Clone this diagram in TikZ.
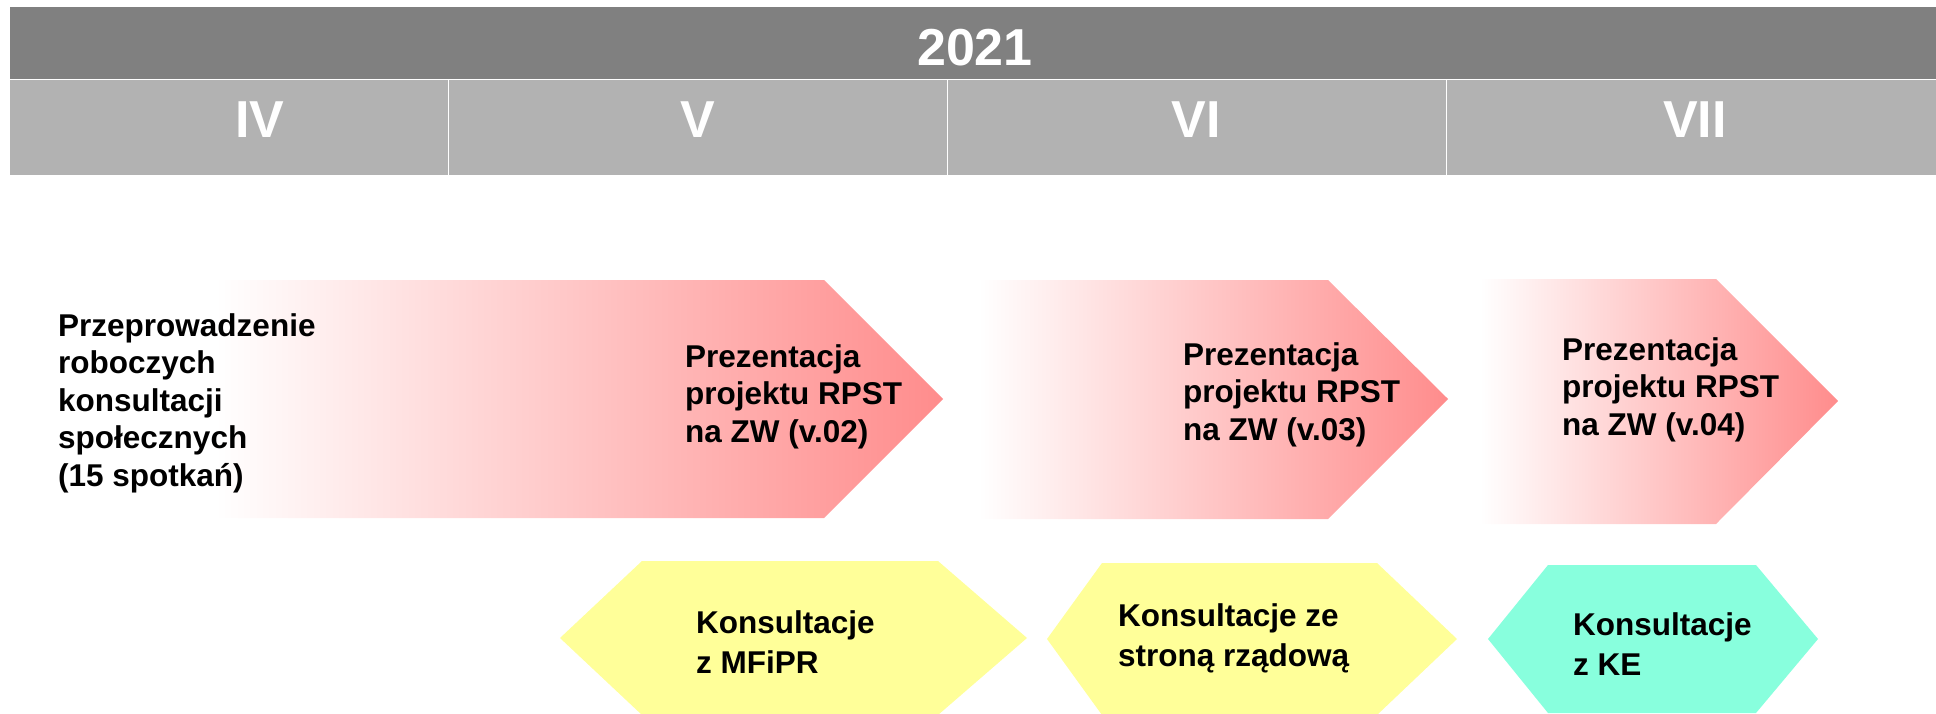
\documentclass[tikz,border=0pt]{standalone}
\usepackage{fontspec}
\setmainfont{Liberation Sans}
\definecolor{bandgray}{RGB}{128,128,128}
\definecolor{monthgray}{RGB}{178,178,178}
\definecolor{arrowred}{RGB}{255,140,140}
\definecolor{hexyellow}{RGB}{255,255,153}
\definecolor{hexteal}{RGB}{136,255,221}

\begin{document}
\begin{tikzpicture}[x=1pt, y=-1pt,
	yearlabel/.style={text=white, font=\fontsize{52}{60}\selectfont\bfseries, anchor=base, inner sep=0},
	monthlabel/.style={text=white, font=\fontsize{52}{58}\selectfont\bfseries, anchor=base, inner sep=0},
	steptext/.style={font=\fontsize{31.5}{37.5}\selectfont\bfseries, align=left, anchor=base west, inner sep=0},
	hextext/.style={steptext, font=\fontsize{31.5}{40}\selectfont\bfseries},
	arrowfill/.style={left color=white, right color=arrowred}]
				%Marco
				\useasboundingbox (0,0) rectangle (1936,714);
				%Cabecera
				\fill[bandgray] (10,7) rectangle (1936,79);
				\fill[monthgray] (10,80) rectangle (1936,175);
				\draw[white, line width=1pt] (10,79.5)--(1936,79.5);
				\foreach \x in {448,947,1446}
					\draw[white, line width=1pt] (\x,80)--(\x,175);
				\node[yearlabel] (year) at (975,66) {2021};
				\node[monthlabel] (mIV) at (260,138) {IV};
				\node[monthlabel] (mV) at (698,138) {V};
				\node[monthlabel] (mVI) at (1196,138) {VI};
				\node[monthlabel] (mVII) at (1695,138) {VII};

				%Flechas
				\shade[arrowfill] (215,280)--(824,280)--(943,399)--(824,518)--(215,518)--cycle;
				\shade[arrowfill] (978,280)--(1328,280)--(1448,399)--(1328,519)--(978,519)--cycle;
				\shade[arrowfill] (1480,279)--(1716,279)--(1838,401)--(1716,524)--(1480,524)--cycle;
				% (base = ultima linea)
				\node[steptext] (consult) at (58,486) {Przeprowadzenie\\roboczych\\konsultacji\\społecznych\\(15 spotkań)};
				\node[steptext] (pres2) at (685,442) {Prezentacja\\projektu RPST\\na ZW (v.02)};
				\node[steptext] (pres3) at (1183,440) {Prezentacja\\projektu RPST\\na ZW (v.03)};
				\node[steptext] (pres4) at (1562,435) {Prezentacja\\projektu RPST\\na ZW (v.04)};

				%Hexagonos
				\fill[hexyellow] (560,638)--(642,561)--(938,561)--(1027,638)--(938,715)--(642,715)--cycle;
				\fill[hexyellow] (1047,639)--(1102,563)--(1377,563)--(1457,639)--(1377,715)--(1102,715)--cycle;
				\fill[hexteal] (1488,639)--(1548,565)--(1756,565)--(1818,639)--(1756,713)--(1548,713)--cycle;
				\node[hextext] (mfipr) at (696,673) {Konsultacje\\z MFiPR};
				\node[hextext] (rzad) at (1118,666) {Konsultacje ze\\stroną rządową};
				\node[hextext] (ke) at (1573,675) {Konsultacje\\z KE};
\end{tikzpicture}
\end{document}
